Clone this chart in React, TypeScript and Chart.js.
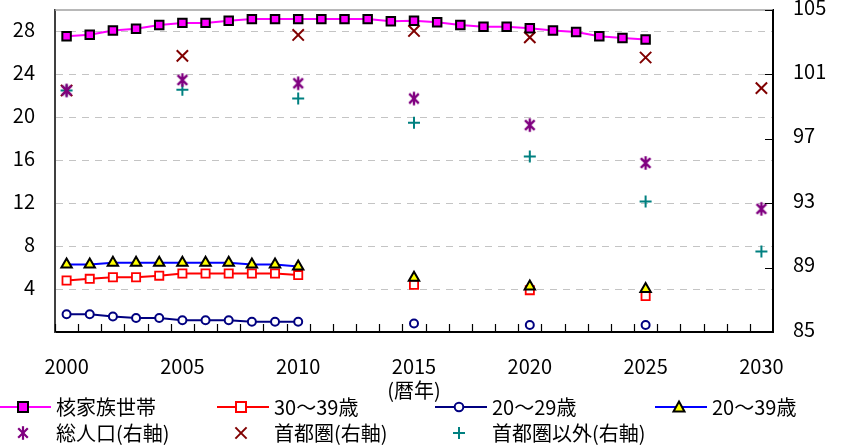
import React, { useEffect, useRef } from "react";
import { Chart, registerables } from "chart.js";

Chart.register(...registerables);

// ---------- data ----------
const yearLabels = [
  "2000", "2001", "2002", "2003", "2004", "2005", "2006", "2007", "2008", "2009",
  "2010", "2011", "2012", "2013", "2014", "2015", "2016", "2017", "2018", "2019",
  "2020", "2021", "2022", "2023", "2024", "2025", "2026", "2027", "2028", "2029", "2030",
];
const tickYears = ["2000", "2005", "2010", "2015", "2020", "2025", "2030"];

// 核家族世帯 (annual 2000–2025, left axis)
const nuclearYears = [
  "2000", "2001", "2002", "2003", "2004", "2005", "2006", "2007", "2008", "2009",
  "2010", "2011", "2012", "2013", "2014", "2015", "2016", "2017", "2018", "2019",
  "2020", "2021", "2022", "2023", "2024", "2025",
];
const nuclearHouseholds = [
  27.55, 27.7, 28.1, 28.25, 28.6, 28.8, 28.8, 29.0, 29.15, 29.15,
  29.15, 29.15, 29.15, 29.15, 28.95, 29.0, 28.85, 28.6, 28.45, 28.45,
  28.3, 28.1, 27.95, 27.55, 27.4, 27.25,
];

// age-group series: annual 2000–2010, then 2015 / 2020 / 2025 points
const ageAnnualYears = ["2000", "2001", "2002", "2003", "2004", "2005", "2006", "2007", "2008", "2009", "2010"];
const ageLaterYears = ["2015", "2020", "2025"];
const age30to39Annual = [4.8, 4.95, 5.1, 5.1, 5.25, 5.45, 5.45, 5.45, 5.45, 5.45, 5.3];
const age30to39Later = [4.4, 3.9, 3.35];
const age20to29Annual = [1.65, 1.65, 1.45, 1.3, 1.3, 1.1, 1.1, 1.1, 0.95, 0.95, 0.95];
const age20to29Later = [0.8, 0.65, 0.65];
const age20to39Annual = [6.3, 6.3, 6.45, 6.45, 6.45, 6.45, 6.45, 6.45, 6.3, 6.3, 6.1];
const age20to39Later = [5.05, 4.25, 4.0];

// index series (right axis), every 5 years 2000–2030
const indexYears = ["2000", "2005", "2010", "2015", "2020", "2025", "2030"];
const totalPopIndex = [100.0, 100.65, 100.45, 99.5, 97.85, 95.5, 92.65];
const capitalIndex = [100.0, 102.15, 103.45, 103.7, 103.3, 102.05, 100.15];
const nonCapitalIndex = [100.0, 100.05, 99.5, 98.0, 95.9, 93.1, 90.0];

// left / right axis ranges and steps
const leftMin = 0, leftMax = 30, leftStep = 4;
const rightMin = 85, rightMax = 105, rightStep = 4;

// ---------- helpers ----------
function toFull(pairs: Array<[string[], number[]]>): (number | null)[] {
  const map = new Map<string, number>();
  pairs.forEach(([ys, vs]) => ys.forEach((y, i) => map.set(y, vs[i])));
  return yearLabels.map((y) => (map.has(y) ? (map.get(y) as number) : null));
}

const FONT = '"Noto Sans CJK JP", "Noto Sans", sans-serif';
const AST_ANGLES = [90, 45, 135];
const AST_R = 6.8;

function makeAsterisk(color: string): HTMLCanvasElement {
  const size = 18;
  const c = document.createElement("canvas");
  c.width = size;
  c.height = size;
  const g = c.getContext("2d")!;
  g.strokeStyle = color;
  g.lineWidth = 2.4;
  const cx = size / 2, cy = size / 2;
  g.beginPath();
  for (const a of AST_ANGLES) {
    const rad = (a * Math.PI) / 180;
    g.moveTo(cx + AST_R * Math.cos(rad), cy - AST_R * Math.sin(rad));
    g.lineTo(cx - AST_R * Math.cos(rad), cy + AST_R * Math.sin(rad));
  }
  g.stroke();
  return c;
}

type Marker = "rect" | "circle" | "triangle" | "asterisk" | "crossRot" | "cross";
interface Series {
  label: string;
  line: string | null;
  marker: Marker;
  fill: string;
  stroke: string;
}

const S_NUCLEAR: Series = { label: "核家族世帯", line: "#FF00FF", marker: "rect", fill: "#FF00FF", stroke: "#000000" };
const S_30_39: Series = { label: "30～39歳", line: "#FF0000", marker: "rect", fill: "#FFFFFF", stroke: "#FF0000" };
const S_20_29: Series = { label: "20～29歳", line: "#000080", marker: "circle", fill: "#FFFFFF", stroke: "#000080" };
const S_20_39: Series = { label: "20～39歳", line: "#0000FF", marker: "triangle", fill: "#FFFF00", stroke: "#000000" };
const S_TOTAL: Series = { label: "総人口(右軸)", line: null, marker: "asterisk", fill: "#800080", stroke: "#800080" };
const S_CAPITAL: Series = { label: "首都圏(右軸)", line: null, marker: "crossRot", fill: "#800000", stroke: "#800000" };
const S_NONCAP: Series = { label: "首都圏以外(右軸)", line: null, marker: "cross", fill: "#008080", stroke: "#008080" };

const legendRow1 = [S_NUCLEAR, S_30_39, S_20_29, S_20_39];
const legendRow2 = [S_TOTAL, S_CAPITAL, S_NONCAP];
const legendCols = [-1, 217, 435, 655];

function LegendIcon({ s }: { s: Series }) {
  const cx = 24, cy = 10;
  let mark: React.ReactNode = null;
  if (s.marker === "rect") {
    const h = 5;
    mark = <rect x={cx - h} y={cy - h} width={2 * h} height={2 * h} fill={s.fill} stroke={s.stroke} strokeWidth={2} />;
  } else if (s.marker === "circle") {
    mark = <circle cx={cx} cy={cy} r={4.3} fill={s.fill} stroke={s.stroke} strokeWidth={2} />;
  } else if (s.marker === "triangle") {
    mark = <polygon points={`${cx},${cy - 5.5} ${cx + 5.5},${cy + 4.5} ${cx - 5.5},${cy + 4.5}`} fill={s.fill} stroke={s.stroke} strokeWidth={2} strokeLinejoin="miter" />;
  } else if (s.marker === "asterisk") {
    const segs = AST_ANGLES.map((a) => {
      const rad = (a * Math.PI) / 180;
      return (
        <line key={a} x1={cx + AST_R * Math.cos(rad)} y1={cy - AST_R * Math.sin(rad)} x2={cx - AST_R * Math.cos(rad)} y2={cy + AST_R * Math.sin(rad)} stroke={s.stroke} strokeWidth={2.2} />
      );
    });
    mark = <g>{segs}</g>;
  } else if (s.marker === "crossRot") {
    const d = 5.6;
    mark = (
      <g stroke={s.stroke} strokeWidth={2}>
        <line x1={cx - d} y1={cy - d} x2={cx + d} y2={cy + d} />
        <line x1={cx - d} y1={cy + d} x2={cx + d} y2={cy - d} />
      </g>
    );
  } else {
    const d = 6;
    mark = (
      <g stroke={s.stroke} strokeWidth={2}>
        <line x1={cx - d} y1={cy} x2={cx + d} y2={cy} />
        <line x1={cx} y1={cy - d} x2={cx} y2={cy + d} />
      </g>
    );
  }
  return (
    <svg width={52} height={20} style={{ position: "absolute", left: 0, top: 3 }}>
      {s.line && <line x1={0} y1={cy} x2={52} y2={cy} stroke={s.line} strokeWidth={2} />}
      {mark}
    </svg>
  );
}

function LegendRow({ items, top }: { items: Series[]; top: number }) {
  return (
    <>
      {items.map((s, i) => (
        <div key={s.label} style={{ position: "absolute", left: legendCols[i], top, height: 26, width: 210 }}>
          <LegendIcon s={s} />
          <span
            style={{
              position: "absolute",
              left: 57,
              top: 0,
              lineHeight: "26px",
              fontSize: 20,
              fontFamily: FONT,
              color: "#000",
              whiteSpace: "nowrap",
            }}
          >
            {s.label}
          </span>
        </div>
      ))}
    </>
  );
}

const innerTicks = {
  id: "innerTicks",
  afterDatasetsDraw(chart: any) {
    const { ctx, chartArea, scales } = chart;
    const { left, right, top, bottom } = chartArea;
    ctx.save();
    // top frame line
    ctx.strokeStyle = "#a0a0a0";
    ctx.lineWidth = 1.5;
    ctx.beginPath();
    ctx.moveTo(left, top);
    ctx.lineTo(right, top);
    ctx.stroke();
    // x-axis inward tick marks at category boundaries
    const xs = scales.x;
    const step = xs.getPixelForValue(1) - xs.getPixelForValue(0);
    ctx.strokeStyle = "#000";
    ctx.lineWidth = 1.2;
    ctx.beginPath();
    for (let i = 0; i < yearLabels.length; i++) {
      const px = Math.round(xs.getPixelForValue(i) - step / 2) + 0.5;
      ctx.moveTo(px, bottom);
      ctx.lineTo(px, bottom - 8);
    }
    // right axis inward ticks
    const ys = scales.y1;
    ys.ticks.forEach((t: any) => {
      const py = Math.round(ys.getPixelForValue(t.value)) + 0.5;
      ctx.moveTo(right, py);
      ctx.lineTo(right - 8, py);
    });
    ctx.stroke();
    ctx.restore();
  },
};

export default function App() {
  const ref = useRef<HTMLCanvasElement>(null);

  useEffect(() => {
    const canvas = ref.current;
    if (!canvas) return;
    const asterisk = makeAsterisk(S_TOTAL.stroke);

    const lineDs = (s: Series, data: (number | null)[], radius: number, bw: number, style: any, order = 0) => ({
      label: s.label,
      data,
      yAxisID: "y",
      borderColor: s.line,
      backgroundColor: s.fill,
      borderWidth: 2,
      pointStyle: style,
      pointRadius: radius,
      pointBackgroundColor: s.fill,
      pointBorderColor: s.stroke,
      pointBorderWidth: bw,
      spanGaps: false,
      tension: 0,
      order,
    });
    const pointDs = (s: Series, data: (number | null)[], radius: number, style: any) => ({
      label: s.label,
      data,
      yAxisID: "y1",
      showLine: false,
      borderColor: s.stroke,
      backgroundColor: s.fill,
      pointStyle: style,
      pointRadius: radius,
      pointBackgroundColor: s.fill,
      pointBorderColor: s.stroke,
      pointBorderWidth: 2,
      order: 2,
    });

    const chart = new Chart(canvas, {
      type: "line",
      data: {
        labels: yearLabels,
        datasets: [
          lineDs(S_NUCLEAR, toFull([[nuclearYears, nuclearHouseholds]]), 6, 2, "rect", 0),
          lineDs(S_30_39, toFull([[ageAnnualYears, age30to39Annual], [ageLaterYears, age30to39Later]]), 5.8, 1.8, "rect", 1),
          lineDs(S_20_29, toFull([[ageAnnualYears, age20to29Annual], [ageLaterYears, age20to29Later]]), 4, 2, "circle", 1),
          lineDs(S_20_39, toFull([[ageAnnualYears, age20to39Annual], [ageLaterYears, age20to39Later]]), 6, 2, "triangle", 0),
          pointDs(S_TOTAL, toFull([[indexYears, totalPopIndex]]), 7, asterisk),
          pointDs(S_CAPITAL, toFull([[indexYears, capitalIndex]]), 8, "crossRot"),
          pointDs(S_NONCAP, toFull([[indexYears, nonCapitalIndex]]), 6, "cross"),
        ] as any,
      },
      options: {
        responsive: false,
        animation: false,
        layout: { padding: { top: 3, bottom: 44, left: 0, right: 0 } },
        plugins: { legend: { display: false }, tooltip: { enabled: false } },
        scales: {
          x: {
            type: "category",
            offset: true,
            grid: { display: false },
            border: { display: true, color: "#000", width: 2 },
            ticks: {
              autoSkip: false,
              maxRotation: 0,
              minRotation: 0,
              padding: 14,
              color: "#000",
              font: { family: FONT, size: 20 },
              callback: (_v: any, i: number) => (tickYears.includes(yearLabels[i]) ? yearLabels[i] : ""),
            },
            title: {
              display: true,
              text: "(暦年)",
              color: "#000",
              font: { family: FONT, size: 20 },
              padding: { top: 0, bottom: 0 },
            },
            afterFit: (s: any) => {
              s.height = 70;
              s.paddingLeft = 0;
              s.paddingRight = 0;
            },
          },
          y: {
            position: "left",
            min: leftMin,
            max: leftMax,
            ticks: {
              stepSize: leftStep,
              includeBounds: false,
              padding: 20,
              labelOffset: -2,
              color: "#000",
              font: { family: FONT, size: 20 },
              callback: (v: any) => (v > leftMin && v < leftMax ? String(v) : ""),
            },
            grid: {
              drawTicks: false,
              lineWidth: 1,
              color: (c: any) => (c.tick && c.tick.value > leftMin && c.tick.value < leftMax ? "#c4c4c4" : "rgba(0,0,0,0)"),
              borderDash: [7, 6],
            } as any,
            border: { display: true, color: "#404040", width: 2, dash: [7, 6] },
            afterFit: (s: any) => {
              s.width = 55;
              s.paddingTop = 0;
              s.paddingBottom = 0;
            },
          },
          y1: {
            position: "right",
            min: rightMin,
            max: rightMax,
            ticks: {
              stepSize: rightStep,
              includeBounds: false,
              padding: 20,
              labelOffset: -3,
              color: "#000",
              font: { family: FONT, size: 20 },
            },
            grid: { drawOnChartArea: false, drawTicks: false },
            border: { display: true, color: "#000", width: 2 },
            afterFit: (s: any) => {
              s.width = 80;
              s.paddingTop = 0;
              s.paddingBottom = 0;
            },
          },
        },
      } as any,
      plugins: [innerTicks],
    });
    return () => chart.destroy();
  }, []);

  return (
    <div style={{ position: "fixed", left: 0, top: 0, width: 853, height: 446, background: "#fff", overflow: "hidden" }}>
      <canvas ref={ref} width={853} height={446} style={{ display: "block", width: 853, height: 446 }} />
      <LegendRow items={legendRow1} top={394} />
      <LegendRow items={legendRow2} top={420} />
    </div>
  );
}
